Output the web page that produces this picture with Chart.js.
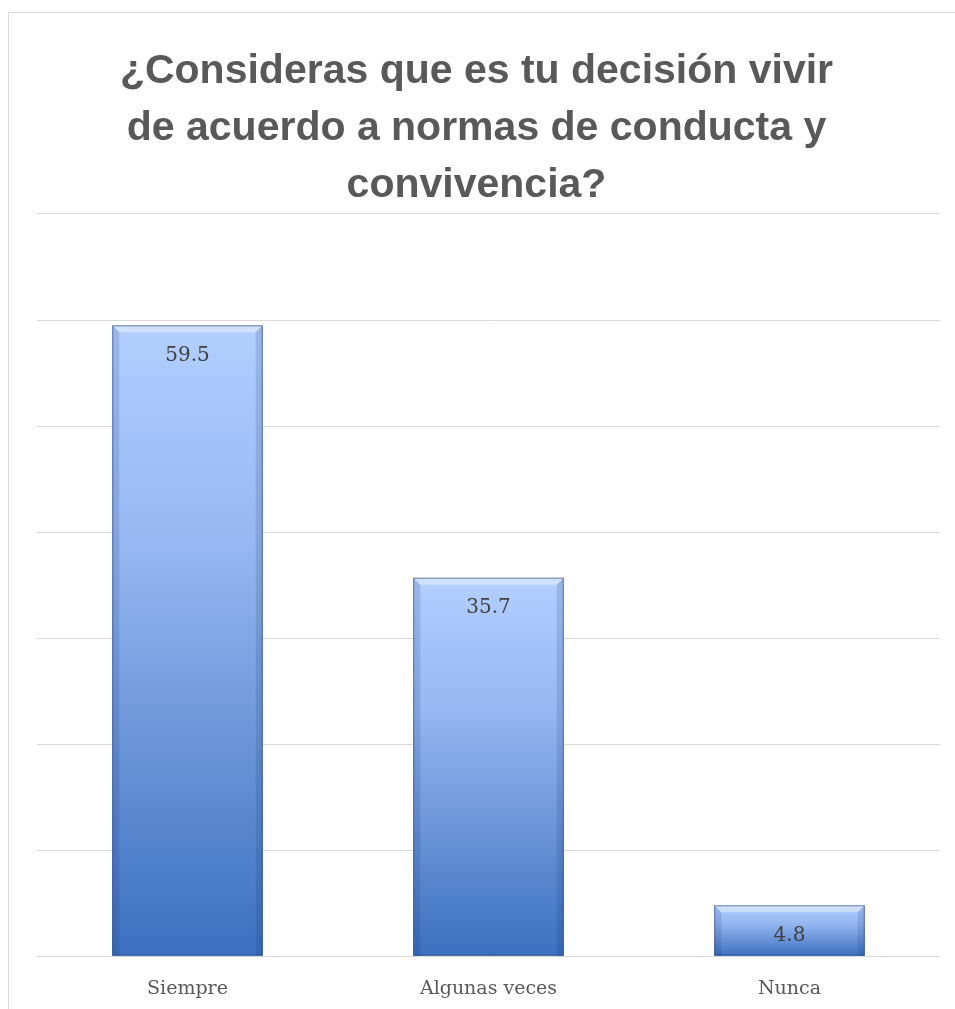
<!DOCTYPE html>
<html>
<head>
<meta charset="utf-8">
<script src="https://cdn.jsdelivr.net/npm/chart.js@4.4.0/dist/chart.umd.min.js"></script>
<style>
  body { margin: 0; background: #fff; }
  #frame { position: absolute; left: 8px; top: 12px; width: 960px; height: 1010px; border: 1px solid #d9d9d9; }
  canvas { position: absolute; left: 0; top: 0; }
</style>
</head>
<body>
<div id="frame"></div>
<canvas id="chart" width="955" height="1009"></canvas>
<script>
const titleLines = ['¿Consideras que es tu decisión vivir', 'de acuerdo a normas de conducta y', 'convivencia?'];
const categories = ['Siempre', 'Algunas veces', 'Nunca'];
const values = [59.5, 35.7, 4.8];
const yMax = 70;
const yStep = 10;

function barGradient(context) {
    const chart = context.chart;
    const area = chart.chartArea;
    if (!area || context.dataIndex === undefined) return '#6f97dc';
    const y = chart.scales.y;
    const top = y.getPixelForValue(values[context.dataIndex]);
    const bottom = y.getPixelForValue(0);
    const g = chart.ctx.createLinearGradient(0, top, 0, bottom);
    g.addColorStop(0, '#b3cffd');
    g.addColorStop(0.12, '#a8c6fc');
    g.addColorStop(0.35, '#96b7f1');
    g.addColorStop(1, '#3b70bf');
    return g;
}

// bevel highlight and value label on each bar
const barDecor = {
    id: 'barDecor',
    afterDatasetsDraw(chart) {
        const ctx = chart.ctx;
        const meta = chart.getDatasetMeta(0);
        meta.data.forEach((bar, i) => {
            const left = bar.x - bar.width / 2;
            const right = bar.x + bar.width / 2;
            const top = bar.y;
            const bottom = bar.base;
            const b = 7;
            ctx.save();
            ctx.fillStyle = 'rgba(255,255,255,0.4)';
            ctx.beginPath();
            ctx.moveTo(left, top);
            ctx.lineTo(right, top);
            ctx.lineTo(right - b, top + b);
            ctx.lineTo(left + b, top + b);
            ctx.closePath();
            ctx.fill();
            ctx.fillStyle = 'rgba(20,50,110,0.15)';
            ctx.beginPath();
            ctx.moveTo(left, top);
            ctx.lineTo(left + b, top + b);
            ctx.lineTo(left + b, bottom);
            ctx.lineTo(left, bottom);
            ctx.closePath();
            ctx.fill();
            ctx.beginPath();
            ctx.moveTo(right, top);
            ctx.lineTo(right - b, top + b);
            ctx.lineTo(right - b, bottom);
            ctx.lineTo(right, bottom);
            ctx.closePath();
            ctx.fill();
            ctx.strokeStyle = 'rgba(30,60,120,0.6)';
            ctx.lineWidth = 1;
            ctx.strokeRect(left + 0.5, top + 0.5, bar.width - 1, bottom - top - 1);
            ctx.fillStyle = '#404040';
            ctx.font = '20px "DejaVu Serif", "Liberation Serif", serif';
            ctx.textAlign = 'center';
            ctx.textBaseline = 'middle';
            ctx.fillText(String(values[i]), bar.x, top + 30);
            ctx.restore();
        });
    }
};

new Chart(document.getElementById('chart'), {
    type: 'bar',
    data: {
        labels: categories,
        datasets: [{
            data: values,
            backgroundColor: barGradient,
            borderWidth: 0,
            categoryPercentage: 1,
            barPercentage: 0.5
        }]
    },
    options: {
        responsive: false,
        animation: false,
        layout: { padding: { left: 13, right: 15, top: 0, bottom: -12 } },
        plugins: {
            legend: { display: false },
            tooltip: { enabled: false },
            title: {
                display: true,
                text: titleLines,
                color: '#595959',
                font: { family: '"Liberation Sans", Arial, sans-serif', size: 41, weight: 'bold', lineHeight: 1.39 },
                padding: { top: 43, bottom: 0 }
            }
        },
        scales: {
            x: {
                grid: { display: false, drawTicks: false },
                border: { display: false },
                ticks: { color: '#595959', padding: 21, font: { family: '"DejaVu Serif", "Liberation Serif", serif', size: 19 } }
            },
            y: {
                min: 0,
                max: yMax,
                afterFit(scale) { scale.width = 24; },
                ticks: { display: false, stepSize: yStep },
                grid: { color: '#d9d9d9', lineWidth: 1, drawTicks: false },
                border: { display: false }
            }
        }
    },
    plugins: [barDecor]
});
</script>
</body>
</html>
